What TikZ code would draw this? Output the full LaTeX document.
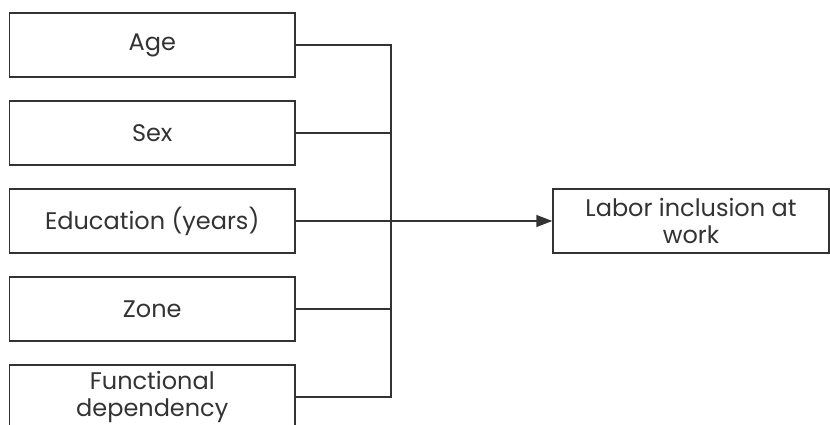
\documentclass[tikz,border=0pt]{standalone}
\usepackage{fontspec}
\setmainfont{Poppins}
\usetikzlibrary{arrows.meta}
\definecolor{ink}{HTML}{333333}
\begin{document}
\begin{tikzpicture}[x=1pt,y=-1pt,
  box/.style={draw=ink,line width=1.5pt,minimum width=285.5pt,minimum height=64pt,inner sep=0pt,align=center,font=\fontsize{24}{27}\selectfont,text=ink},
  outbox/.style={box,minimum width=276pt},
  link/.style={draw=ink,line width=1.5pt},
  arr/.style={link,-{Triangle[length=16pt,width=12pt]}}]
\useasboundingbox (0,0) rectangle (830,425);
\clip (0,0) rectangle (830,425);
\node[box] (age) at (152.25,45) {Age};
\node[box] (sex) at (152.25,133) {Sex};
\node[box] (edu) at (152.25,221) {Education (years)};
\node[box] (zone) at (152.25,309) {Zone};
\node[box] (fun) at (152.25,397) {Functional\\dependency};
\node[outbox] (out) at (691,221) {Labor inclusion at\\work};
\coordinate (top) at (391,45);
\coordinate (bot) at (391,397);
\coordinate (mid) at (391,221);
\draw[link] (age.east) -- (top) -- (bot) -- (fun.east);
\draw[link] (sex.east) -- (sex.east -| mid);
\draw[link] (zone.east) -- (zone.east -| mid);
\draw[arr] (edu.east) -- (out.west);
\end{tikzpicture}
\end{document}
